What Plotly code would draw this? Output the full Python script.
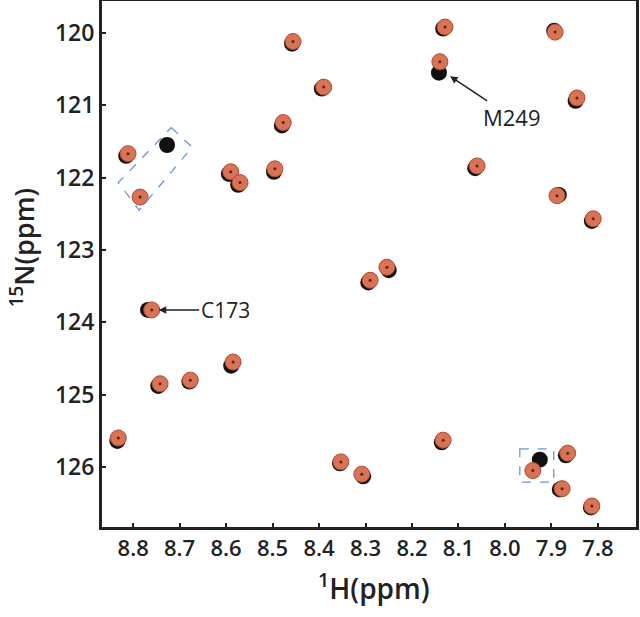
import plotly.graph_objects as go

# 1H / 15N chemical shifts (ppm)
free_h = [8.815, 8.727, 8.594, 8.574, 8.497, 8.480, 8.458, 8.394, 8.133, 8.142,
          7.894, 7.848, 8.064, 7.884, 7.813, 8.250, 8.294, 8.768, 8.746, 8.679,
          8.589, 8.834, 8.355, 8.305, 8.136, 7.925, 7.869, 7.882, 7.815]
free_n = [121.70, 121.55, 121.95, 122.10, 121.92, 121.28, 120.15, 120.77, 119.94, 120.55,
          119.97, 120.94, 121.87, 122.24, 122.60, 123.28, 123.45, 123.83, 124.88, 124.82,
          124.60, 125.64, 125.95, 126.13, 125.66, 125.90, 125.84, 126.31, 126.56]

bound_h = [8.811, 8.785, 8.590, 8.570, 8.495, 8.477, 8.456, 8.390, 8.129, 8.140,
           7.892, 7.845, 8.060, 7.888, 7.810, 8.254, 8.290, 8.760, 8.742, 8.677,
           8.585, 8.832, 8.353, 8.308, 8.133, 7.940, 7.865, 7.877, 7.813]
bound_n = [121.67, 122.27, 121.92, 122.07, 121.88, 121.24, 120.12, 120.75, 119.92, 120.40,
           119.99, 120.90, 121.84, 122.25, 122.57, 123.24, 123.42, 123.83, 124.85, 124.80,
           124.55, 125.60, 125.93, 126.10, 125.63, 126.05, 125.81, 126.30, 126.54]

x_ticks = [8.8, 8.7, 8.6, 8.5, 8.4, 8.3, 8.2, 8.1, 8.0, 7.9, 7.8]
x_tick_text = ["8.8", "8.7", "8.6", "8.5", "8.4", "8.3", "8.2", "8.1", "8.0", "7.9", "7.8"]
y_ticks = [120, 121, 122, 123, 124, 125, 126]

ORANGE = "rgb(216,115,86)"
FONT = "Open Sans"

fig = go.Figure()
fig.add_trace(go.Scatter(
    x=free_h, y=free_n, mode="markers",
    marker=dict(size=16, color="#111111", line=dict(width=0)),
    hoverinfo="x+y", showlegend=False))
fig.add_trace(go.Scatter(
    x=bound_h, y=bound_n, mode="markers",
    marker=dict(size=16, color=ORANGE, line=dict(width=1, color="rgb(170,75,50)")),
    hoverinfo="x+y", showlegend=False))
fig.add_trace(go.Scatter(
    x=bound_h, y=bound_n, mode="markers",
    marker=dict(size=3, color="rgb(90,35,20)"),
    hoverinfo="skip", showlegend=False))

dash = dict(color="rgb(110,150,210)", width=1.3, dash="dash")
fig.add_shape(type="path", xref="x", yref="y",
              path="M 8.718,121.31 L 8.673,121.58 L 8.787,122.45 L 8.832,122.07 Z",
              line=dash)
fig.add_shape(type="rect", xref="x", yref="y",
              x0=7.968, x1=7.895, y0=125.75, y1=126.21, line=dash)

# labelled arrows
fig.add_annotation(x=8.118, y=120.60, ax=7.985, ay=121.17, xref="x", yref="y",
                   axref="x", ayref="y", text="M249", showarrow=True,
                   arrowhead=2, arrowsize=1, arrowwidth=1.5, arrowcolor="#222",
                   font=dict(family=FONT, size=22, color="#222"))
fig.add_annotation(x=8.745, y=123.83, ax=8.602, ay=123.83, xref="x", yref="y",
                   axref="x", ayref="y", text="C173", showarrow=True,
                   arrowhead=2, arrowsize=1, arrowwidth=1.5, arrowcolor="#222",
                   font=dict(family=FONT, size=21, color="#222"))

# axis titles
fig.add_annotation(x=-0.19, y=0.53, xref="paper", yref="paper", textangle=-90,
                   text="<sup>15</sup>N(ppm)", showarrow=False,
                   font=dict(family=FONT, size=27, color="#222", weight=600))
fig.add_annotation(x=0.51, y=-0.07, xref="paper", yref="paper", yanchor="top",
                   text="<sup>1</sup>H(ppm)", showarrow=False,
                   font=dict(family=FONT, size=28, color="#222", weight=600))

fig.update_xaxes(range=[8.867, 7.718], tickvals=x_ticks, ticktext=x_tick_text,
                 ticks="inside", ticklen=4, tickwidth=2, tickcolor="#222",
                 showline=True, linewidth=3, linecolor="#222", mirror=True,
                 showgrid=False, zeroline=False, automargin=False,
                 tickfont=dict(family=FONT, size=22, color="#222", weight=600))
fig.update_yaxes(range=[126.83, 119.56], tickvals=y_ticks,
                 ticks="inside", ticklen=4, tickwidth=2, tickcolor="#222",
                 showline=True, linewidth=3, linecolor="#222", mirror=True,
                 showgrid=False, zeroline=False, automargin=False,
                 tickfont=dict(family=FONT, size=23, color="#222", weight=600))

fig.update_layout(width=640, height=617,
                  margin=dict(l=102, r=4, t=1, b=90, autoexpand=False),
                  plot_bgcolor="white", paper_bgcolor="white")

fig.write_html("out.html", config={"displayModeBar": False},
               post_script="document.body.style.margin='0px';document.body.style.overflow='hidden';")
